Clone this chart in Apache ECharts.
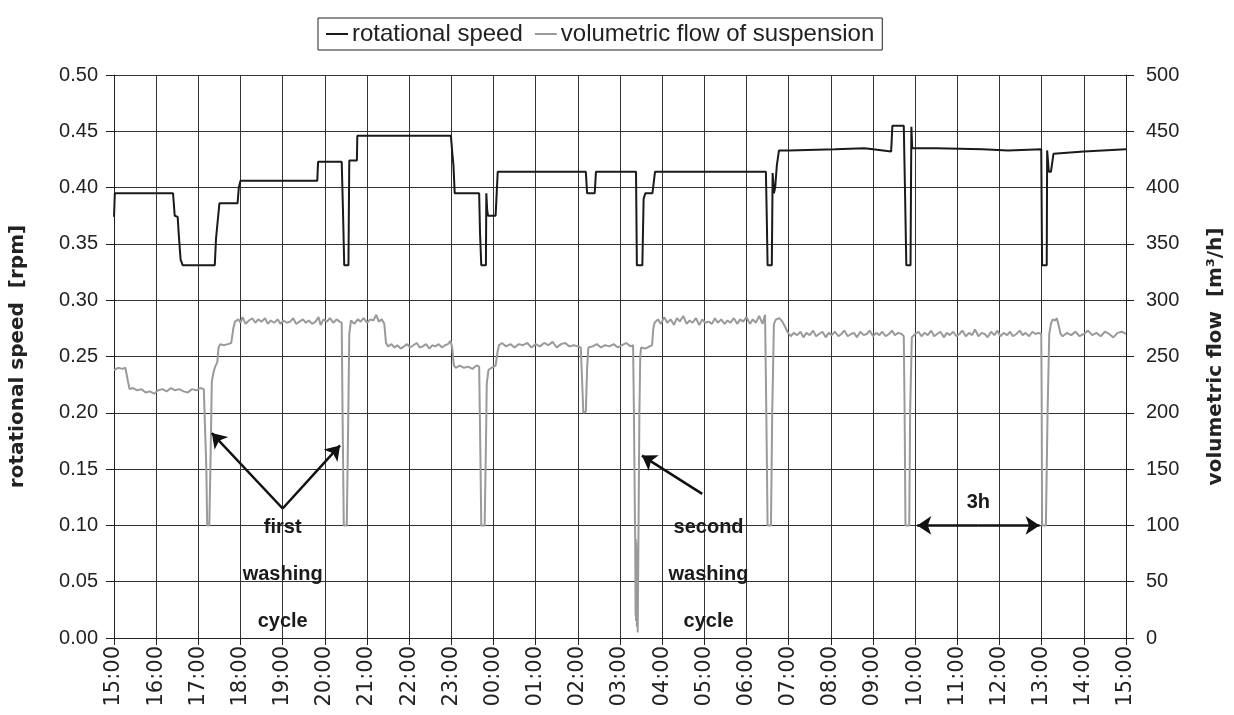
<!DOCTYPE html>
<html><head><meta charset="utf-8">
<script src="https://cdn.jsdelivr.net/npm/echarts@6/dist/echarts.min.js"></script>
<style>html,body{margin:0;padding:0;background:#fff}#c{width:1234px;height:715px}</style>
</head><body><div id="c"></div>
<script>
// time ticks (hours after 15:00)
const timeLabels = ['15:00','16:00','17:00','18:00','19:00','20:00','21:00','22:00','23:00','00:00','01:00','02:00','03:00','04:00','05:00','06:00','07:00','08:00','09:00','10:00','11:00','12:00','13:00','14:00','15:00'];
const seriesNames = ['rotational speed', 'volumetric flow of suspension'];

// rotational speed [rpm] : hours after 15:00 and values
const speedHours = [0,0.02,1.40,1.44,1.51,1.54,1.58,1.63,2.39,2.42,2.50,2.93,2.96,3.0,4.82,4.84,5.40,5.43,5.46,5.56,5.57,5.58,5.76,5.77,7.99,8.02,8.05,8.08,8.66,8.68,8.71,8.82,8.83,8.85,8.87,9.05,9.10,11.19,11.22,11.40,11.43,12.38,12.40,12.53,12.56,12.60,12.77,12.83,15.46,15.48,15.50,15.60,15.62,15.65,15.68,15.72,15.77,16.0,17.1,17.8,18.0,18.43,18.46,18.73,18.76,18.79,18.89,18.90,18.91,18.93,19.5,20.6,21.2,21.99,22.01,22.12,22.13,22.17,22.22,22.28,23.0,24.0];
const speedValues = [0.374,0.395,0.395,0.375,0.374,0.356,0.336,0.331,0.331,0.355,0.386,0.386,0.400,0.406,0.406,0.423,0.423,0.380,0.331,0.331,0.380,0.424,0.424,0.446,0.446,0.432,0.420,0.395,0.395,0.360,0.331,0.331,0.395,0.380,0.375,0.375,0.414,0.414,0.395,0.395,0.414,0.414,0.331,0.331,0.390,0.395,0.395,0.414,0.414,0.375,0.331,0.331,0.413,0.395,0.400,0.420,0.433,0.433,0.434,0.435,0.434,0.432,0.455,0.455,0.395,0.331,0.331,0.395,0.454,0.435,0.435,0.434,0.433,0.434,0.331,0.331,0.433,0.414,0.414,0.430,0.432,0.434];

// volumetric flow [m3/h]
const flowHours = [0,0.1,0.2,0.27,0.33,0.37,0.45,0.55,0.65,0.75,0.85,0.95,1.05,1.15,1.25,1.35,1.45,1.55,1.65,1.75,1.85,1.95,2.05,2.13,2.17,
2.19,2.21,2.26,2.29,2.32,2.36,2.40,2.45,2.48,2.52,2.6,2.7,2.78,2.83,2.87,
2.95,3.0,3.05,3.12,3.2,3.28,3.35,3.42,3.5,3.58,3.65,3.72,3.8,3.88,3.95,4.02,4.1,4.18,4.25,4.32,4.4,4.48,4.55,4.62,4.7,4.78,4.85,4.9,4.97,5.05,5.12,5.2,5.28,5.35,5.40,
5.42,5.45,5.52,5.55,5.58,5.62,5.7,5.78,5.85,5.92,6.0,6.08,6.15,6.22,6.28,6.35,6.41,6.45,6.5,
6.58,6.65,6.72,6.8,6.88,6.95,7.02,7.1,7.18,7.25,7.32,7.4,7.48,7.55,7.62,7.7,7.78,7.85,7.92,7.98,8.02,8.06,8.1,
8.2,8.3,8.4,8.5,8.6,8.66,8.69,8.71,8.79,8.82,8.84,8.88,8.95,9.05,9.1,9.13,
9.2,9.3,9.4,9.5,9.6,9.7,9.8,9.9,10.0,10.1,10.2,10.3,10.4,10.5,10.6,10.7,10.8,10.9,11.0,11.07,
11.1,11.13,11.19,11.22,11.25,11.35,11.45,11.55,11.65,11.75,11.85,11.95,12.05,12.15,12.25,12.31,
12.33,12.35,12.36,12.37,12.375,12.38,12.385,12.39,12.395,12.40,12.41,12.42,12.44,12.46,12.48,12.5,
12.6,12.7,12.76,12.79,12.82,
12.9,12.97,13.05,13.12,13.2,13.28,13.35,13.42,13.5,13.58,13.65,13.72,13.8,13.88,13.95,14.02,14.1,14.18,14.25,14.32,14.4,14.48,14.55,14.62,14.7,14.78,14.85,14.92,15.0,15.08,15.15,15.22,15.3,15.38,15.44,
15.47,15.5,15.58,15.61,15.65,15.7,15.78,15.85,15.92,15.97,
16.05,16.12,16.2,16.28,16.35,16.42,16.5,16.58,16.65,16.72,16.8,16.88,16.95,17.02,17.1,17.18,17.25,17.32,17.4,17.48,17.55,17.62,17.7,17.78,17.85,17.92,18.0,18.08,18.15,18.22,18.3,18.38,18.45,18.52,18.6,18.68,18.73,
18.75,18.77,18.86,18.88,18.92,
19.0,19.08,19.15,19.22,19.3,19.38,19.45,19.52,19.6,19.68,19.75,19.82,19.9,19.98,20.05,20.12,20.2,20.28,20.35,20.42,20.5,20.58,20.65,20.72,20.8,20.88,20.95,21.02,21.1,21.18,21.25,21.32,21.4,21.48,21.55,21.62,21.7,21.78,21.85,21.92,21.99,
22.0,22.01,22.1,22.14,22.18,22.22,22.26,22.32,22.36,22.4,22.45,
22.5,22.6,22.7,22.8,22.9,23.0,23.1,23.2,23.3,23.4,23.5,23.6,23.7,23.8,23.9,24.0];
const flowValues = [238,240,239,240,228,221,222,220,221,218,219,217,220,221,219,222,220,221,219,218,221,220,222,221,220,
150,100,100,160,228,236,241,245,258,261,260,261,262,275,281,
283,280,285,279,282,284,280,283,281,284,279,282,280,283,279,282,280,281,284,279,281,283,280,282,279,281,285,278,283,281,284,280,283,281,280,
200,100,100,180,270,282,279,283,281,284,280,283,282,287,281,283,279,262,259,
261,258,260,257,259,261,258,260,262,258,259,261,257,260,259,261,258,260,261,264,258,242,240,
242,240,241,239,242,241,160,100,100,170,226,238,240,242,255,260,
262,259,261,258,261,260,262,258,261,259,262,260,263,258,261,262,259,260,259,258,
230,200,201,240,258,259,261,258,260,259,261,258,260,262,259,260,
200,120,90,20,88,15,85,25,80,10,60,5,100,200,250,258,
257,259,260,275,280,
283,279,285,280,283,278,284,281,286,279,282,280,284,278,283,280,281,279,284,280,283,279,282,280,284,279,283,281,285,279,283,280,286,279,287,
200,100,100,200,279,283,284,281,276,272,
268,271,269,272,267,271,269,273,268,270,272,267,271,269,272,268,270,273,268,270,271,267,272,269,270,273,268,271,269,272,268,270,273,269,271,270,268,
200,100,100,200,267,
270,272,268,271,269,273,268,270,272,267,271,269,272,268,270,273,268,271,269,274,268,271,270,267,272,269,273,268,271,269,272,268,270,273,269,271,268,272,270,271,270,
215,100,100,200,270,279,283,282,284,278,270,
268,271,269,272,268,270,273,269,271,268,272,270,267,271,272,270];

// annotations (hours, rpm)
const annotationTexts = ['first\nwashing\ncycle', 'second\nwashing\ncycle', '3h'];
const annotationHours = [4.0, 14.1, 20.5];
const annotationValues = [0.056, 0.056, 0.120];
const arrowFrom = [[4.0, 0.115], [4.0, 0.115], [13.95, 0.128], [20.5, 0.100], [20.5, 0.100]];
const arrowTo   = [[2.32, 0.182], [5.36, 0.171], [12.52, 0.162], [19.05, 0.100], [21.95, 0.100]];

const speedData = speedHours.map((h, i) => [h, speedValues[i]]);
const flowData = flowHours.map((h, i) => [h, flowValues[i]]);
const arrowData = arrowFrom.map((f, i) => ({coords: [f, arrowTo[i]]}));
const annData = annotationHours.map((h, i) => ({value: [h, annotationValues[i]], label: {formatter: annotationTexts[i]}}));

const FONT = 'Liberation Sans';
const VFONT = 'DejaVu Sans';
const chart = echarts.init(document.getElementById('c'), null, {renderer: 'canvas'});
chart.setOption({
  animation: false,
  backgroundColor: '#fff',
  textStyle: {fontFamily: FONT},
  legend: {
    data: seriesNames,
    left: 318, top: 18,
    icon: 'rect',
    borderColor: '#222', borderWidth: 1, borderRadius: 0,
    padding: [4, 8, 4, 8],
    itemWidth: 22, itemHeight: 2, itemGap: 12,
    textStyle: {fontFamily: FONT, fontSize: 24, color: '#222', padding: [0, 0, 0, -1]}
  },
  grid: {left: 107, right: 98, top: 75, bottom: 77},
  xAxis: {
    type: 'value', min: 0, max: 24, interval: 1,
    axisLine: {show: true, lineStyle: {color: '#222', width: 1}},
    axisTick: {show: true, length: 7, lineStyle: {color: '#222'}},
    axisLabel: {rotate: 90, margin: 8, fontSize: 21, color: '#222', fontFamily: VFONT,
      formatter: v => timeLabels[Math.round(v)]},
    splitLine: {show: true, lineStyle: {color: '#333', width: 1}}
  },
  yAxis: [{
    type: 'value', min: 0, max: 0.5, interval: 0.05,
    name: 'rotational speed  [rpm]', nameLocation: 'middle', nameGap: 86, nameRotate: 90,
    nameTextStyle: {fontSize: 20, fontWeight: 'bold', color: '#222', fontFamily: VFONT},
    axisLine: {show: true, lineStyle: {color: '#222'}},
    axisTick: {show: true, length: 8, lineStyle: {color: '#222'}},
    axisLabel: {fontSize: 20, color: '#222', margin: 16, fontFamily: FONT, formatter: v => v.toFixed(2)},
    splitLine: {show: true, lineStyle: {color: '#333', width: 1}}
  }, {
    type: 'value', min: 0, max: 500, interval: 50, position: 'right',
    name: 'volumetric flow  [m³/h]', nameLocation: 'middle', nameGap: 80, nameRotate: 90,
    nameTextStyle: {fontSize: 20, fontWeight: 'bold', color: '#222', fontFamily: VFONT},
    axisLine: {show: true, lineStyle: {color: '#222'}},
    axisTick: {show: true, length: 8, lineStyle: {color: '#222'}},
    axisLabel: {fontSize: 20, color: '#222', margin: 20, fontFamily: FONT},
    splitLine: {show: false}
  }],
  series: [{
    name: seriesNames[0], type: 'line', yAxisIndex: 0, data: speedData,
    symbol: 'none', lineStyle: {color: '#1a1a1a', width: 2}, itemStyle: {color: '#1a1a1a'}, z: 4
  }, {
    name: seriesNames[1], type: 'line', yAxisIndex: 1, data: flowData,
    symbol: 'none', lineStyle: {color: '#9a9a9a', width: 2}, itemStyle: {color: '#9a9a9a'}, z: 3
  }, {
    type: 'lines', coordinateSystem: 'cartesian2d', xAxisIndex: 0, yAxisIndex: 0,
    data: arrowData, symbol: ['none', 'arrow'], symbolSize: 14,
    lineStyle: {color: '#111', width: 2.5, opacity: 1}, z: 6, silent: true
  }, {
    type: 'scatter', xAxisIndex: 0, yAxisIndex: 0, data: annData, symbolSize: 0,
    itemStyle: {opacity: 1},
    label: {show: true, position: 'inside', fontSize: 20, fontWeight: 'bold', color: '#1a1a1a', opacity: 1,
      lineHeight: 47, align: 'center', verticalAlign: 'middle', fontFamily: FONT},
    z: 7, silent: true
  }]
});
</script></body></html>
